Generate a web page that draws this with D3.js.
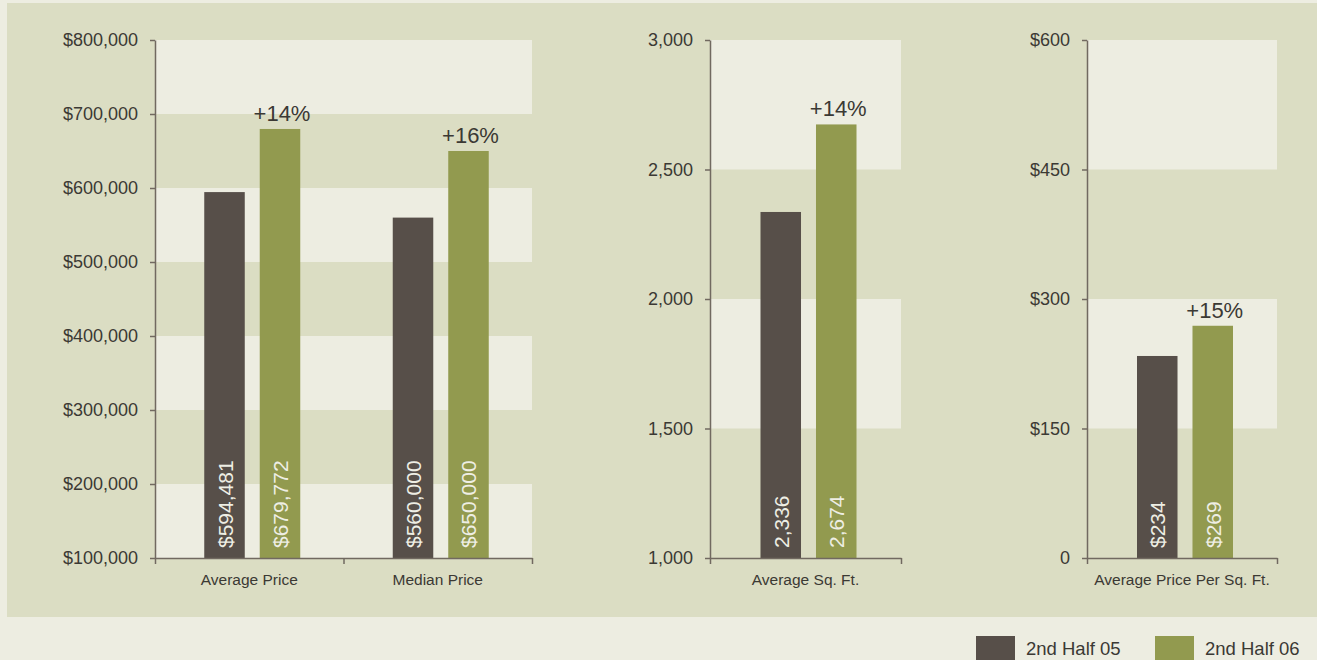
<!DOCTYPE html>
<html lang="en">
<head>
    <meta charset="UTF-8">
    <title>Sales comparison</title>
    <script src="https://d3js.org/d3.v7.min.js"></script>
    <style>
        body {margin: 0; background: #edede1;}
        text {font-family: "Liberation Sans", Arial, sans-serif; fill: #3b3934;}
        .axis path, .axis line {stroke: #716960; stroke-width: 1.5;}
        .axis text {font-size: 18px; fill: #3b3934;}
    </style>
</head>
<body>
<script>
    const width = 1317;
    const height = 660;

    // data
    const series = ["2nd Half 05", "2nd Half 06"];

    const priceCats = ["Average Price", "Median Price"];
    const price05 = [594481, 560000];
    const price06 = [679772, 650000];
    const priceChange = ["+14%", "+16%"];
    const priceTicks = [100000, 200000, 300000, 400000, 500000, 600000, 700000, 800000];

    const sqftCats = ["Average Sq. Ft."];
    const sqft05 = [2336];
    const sqft06 = [2674];
    const sqftChange = ["+14%"];
    const sqftTicks = [1000, 1500, 2000, 2500, 3000];

    const ppsfCats = ["Average Price Per Sq. Ft."];
    const ppsf05 = [234];
    const ppsf06 = [269];
    const ppsfChange = ["+15%"];
    const ppsfTicks = [0, 150, 300, 450, 600];

    const colors = d3.scaleOrdinal().domain(series).range(["#574f49", "#929a4f"]);
    const light = "#edede1";
    const panel = "#dbddc3";

    const comma = d3.format(",");
    const dollar = d => "$" + comma(d);

    const svg = d3.select("body").append("svg")
            .attr("width", width).attr("height", height);

    svg.append("rect").attr("x", 7).attr("y", 3)
            .attr("width", width - 7).attr("height", 614)
            .style("fill", panel);

    const plotTop = 40, plotBottom = 558;

    drawChart({left: 155, right: 532, cats: priceCats, a: price05, b: price06,
               change: priceChange, ticks: priceTicks, tickFmt: dollar, valFmt: dollar});
    drawChart({left: 710, right: 901, cats: sqftCats, a: sqft05, b: sqft06,
               change: sqftChange, ticks: sqftTicks, tickFmt: comma, valFmt: comma});
    drawChart({left: 1087, right: 1277, cats: ppsfCats, a: ppsf05, b: ppsf06,
               change: ppsfChange, ticks: ppsfTicks, tickFmt: d => d === 0 ? "0" : dollar(d), valFmt: dollar});

    function drawChart(c) {
        const g = svg.append("g");
        const y = d3.scaleLinear()
                .domain([c.ticks[0], c.ticks[c.ticks.length - 1]])
                .range([plotBottom, plotTop]);

        // alternating bands, lightest on top
        const n = c.ticks.length - 1;
        g.selectAll("rect.band")
                .data(d3.range(n))
                .enter().append("rect")
                .attr("class", "band")
                .attr("x", c.left)
                .attr("width", c.right - c.left)
                .attr("y", i => y(c.ticks[i + 1]))
                .attr("height", i => y(c.ticks[i]) - y(c.ticks[i + 1]))
                .style("fill", i => (n - 1 - i) % 2 === 0 ? light : panel);

        const x0 = d3.scaleBand().domain(c.cats).range([c.left, c.right]);
        const x1 = d3.scaleBand().domain(series).range([0, 96]).paddingInner(0.27);

        const rows = c.cats.map((cat, i) => ({
            cat: cat, change: c.change[i],
            vals: [{s: series[0], v: c.a[i]}, {s: series[1], v: c.b[i]}]
        }));

        const grp = g.selectAll("g.cat")
                .data(rows)
                .enter().append("g")
                .attr("class", "cat")
                .attr("transform", d => `translate(${x0(d.cat) + x0.bandwidth() / 2 - 45},0)`);

        grp.selectAll("rect.bar")
                .data(d => d.vals)
                .enter().append("rect")
                .attr("class", "bar")
                .attr("x", d => x1(d.s))
                .attr("width", x1.bandwidth())
                .attr("y", d => y(d.v))
                .attr("height", d => plotBottom - y(d.v))
                .style("fill", d => colors(d.s));

        grp.selectAll("text.val")
                .data(d => d.vals)
                .enter().append("text")
                .attr("class", "val")
                .attr("transform", d => `translate(${x1(d.s) + x1.bandwidth() / 2 + 8},${plotBottom - 10}) rotate(-90)`)
                .style("font-size", "21px")
                .style("fill", "#eeeee4")
                .text(d => c.valFmt(d.v));

        grp.append("text")
                .attr("x", x1(series[1]) + x1.bandwidth() / 2 + 2)
                .attr("y", d => y(d.vals[1].v) - 8)
                .attr("text-anchor", "middle")
                .style("font-size", "22px")
                .text(d => d.change);

        g.append("g").attr("class", "axis")
                .attr("transform", `translate(${c.left},0)`)
                .call(d3.axisLeft(y).tickValues(c.ticks).tickSize(5).tickPadding(12)
                        .tickFormat(c.tickFmt).tickSizeOuter(0));

        const xb = d3.scaleLinear().domain([0, c.cats.length]).range([c.left, c.right]);
        g.append("g").attr("class", "axis")
                .attr("transform", `translate(0,${plotBottom})`)
                .call(d3.axisBottom(xb).tickValues(d3.range(c.cats.length + 1))
                        .tickSize(6).tickSizeOuter(0).tickFormat(""));

        g.selectAll("text.cat")
                .data(c.cats)
                .enter().append("text")
                .attr("class", "cat")
                .attr("x", d => x0(d) + x0.bandwidth() / 2)
                .attr("y", 585)
                .attr("text-anchor", "middle")
                .style("font-size", "15.5px")
                .text(d => d);
    }

    // legend
    const legend = svg.selectAll("g.legend")
            .data(series)
            .enter().append("g")
            .attr("class", "legend")
            .attr("transform", (d, i) => `translate(${976 + i * 179},636)`);
    legend.append("rect").attr("width", 39).attr("height", 24)
            .style("fill", d => colors(d));
    legend.append("text").attr("x", 50).attr("y", 19)
            .style("font-size", "18.5px")
            .text(d => d);
</script>
</body>
</html>
